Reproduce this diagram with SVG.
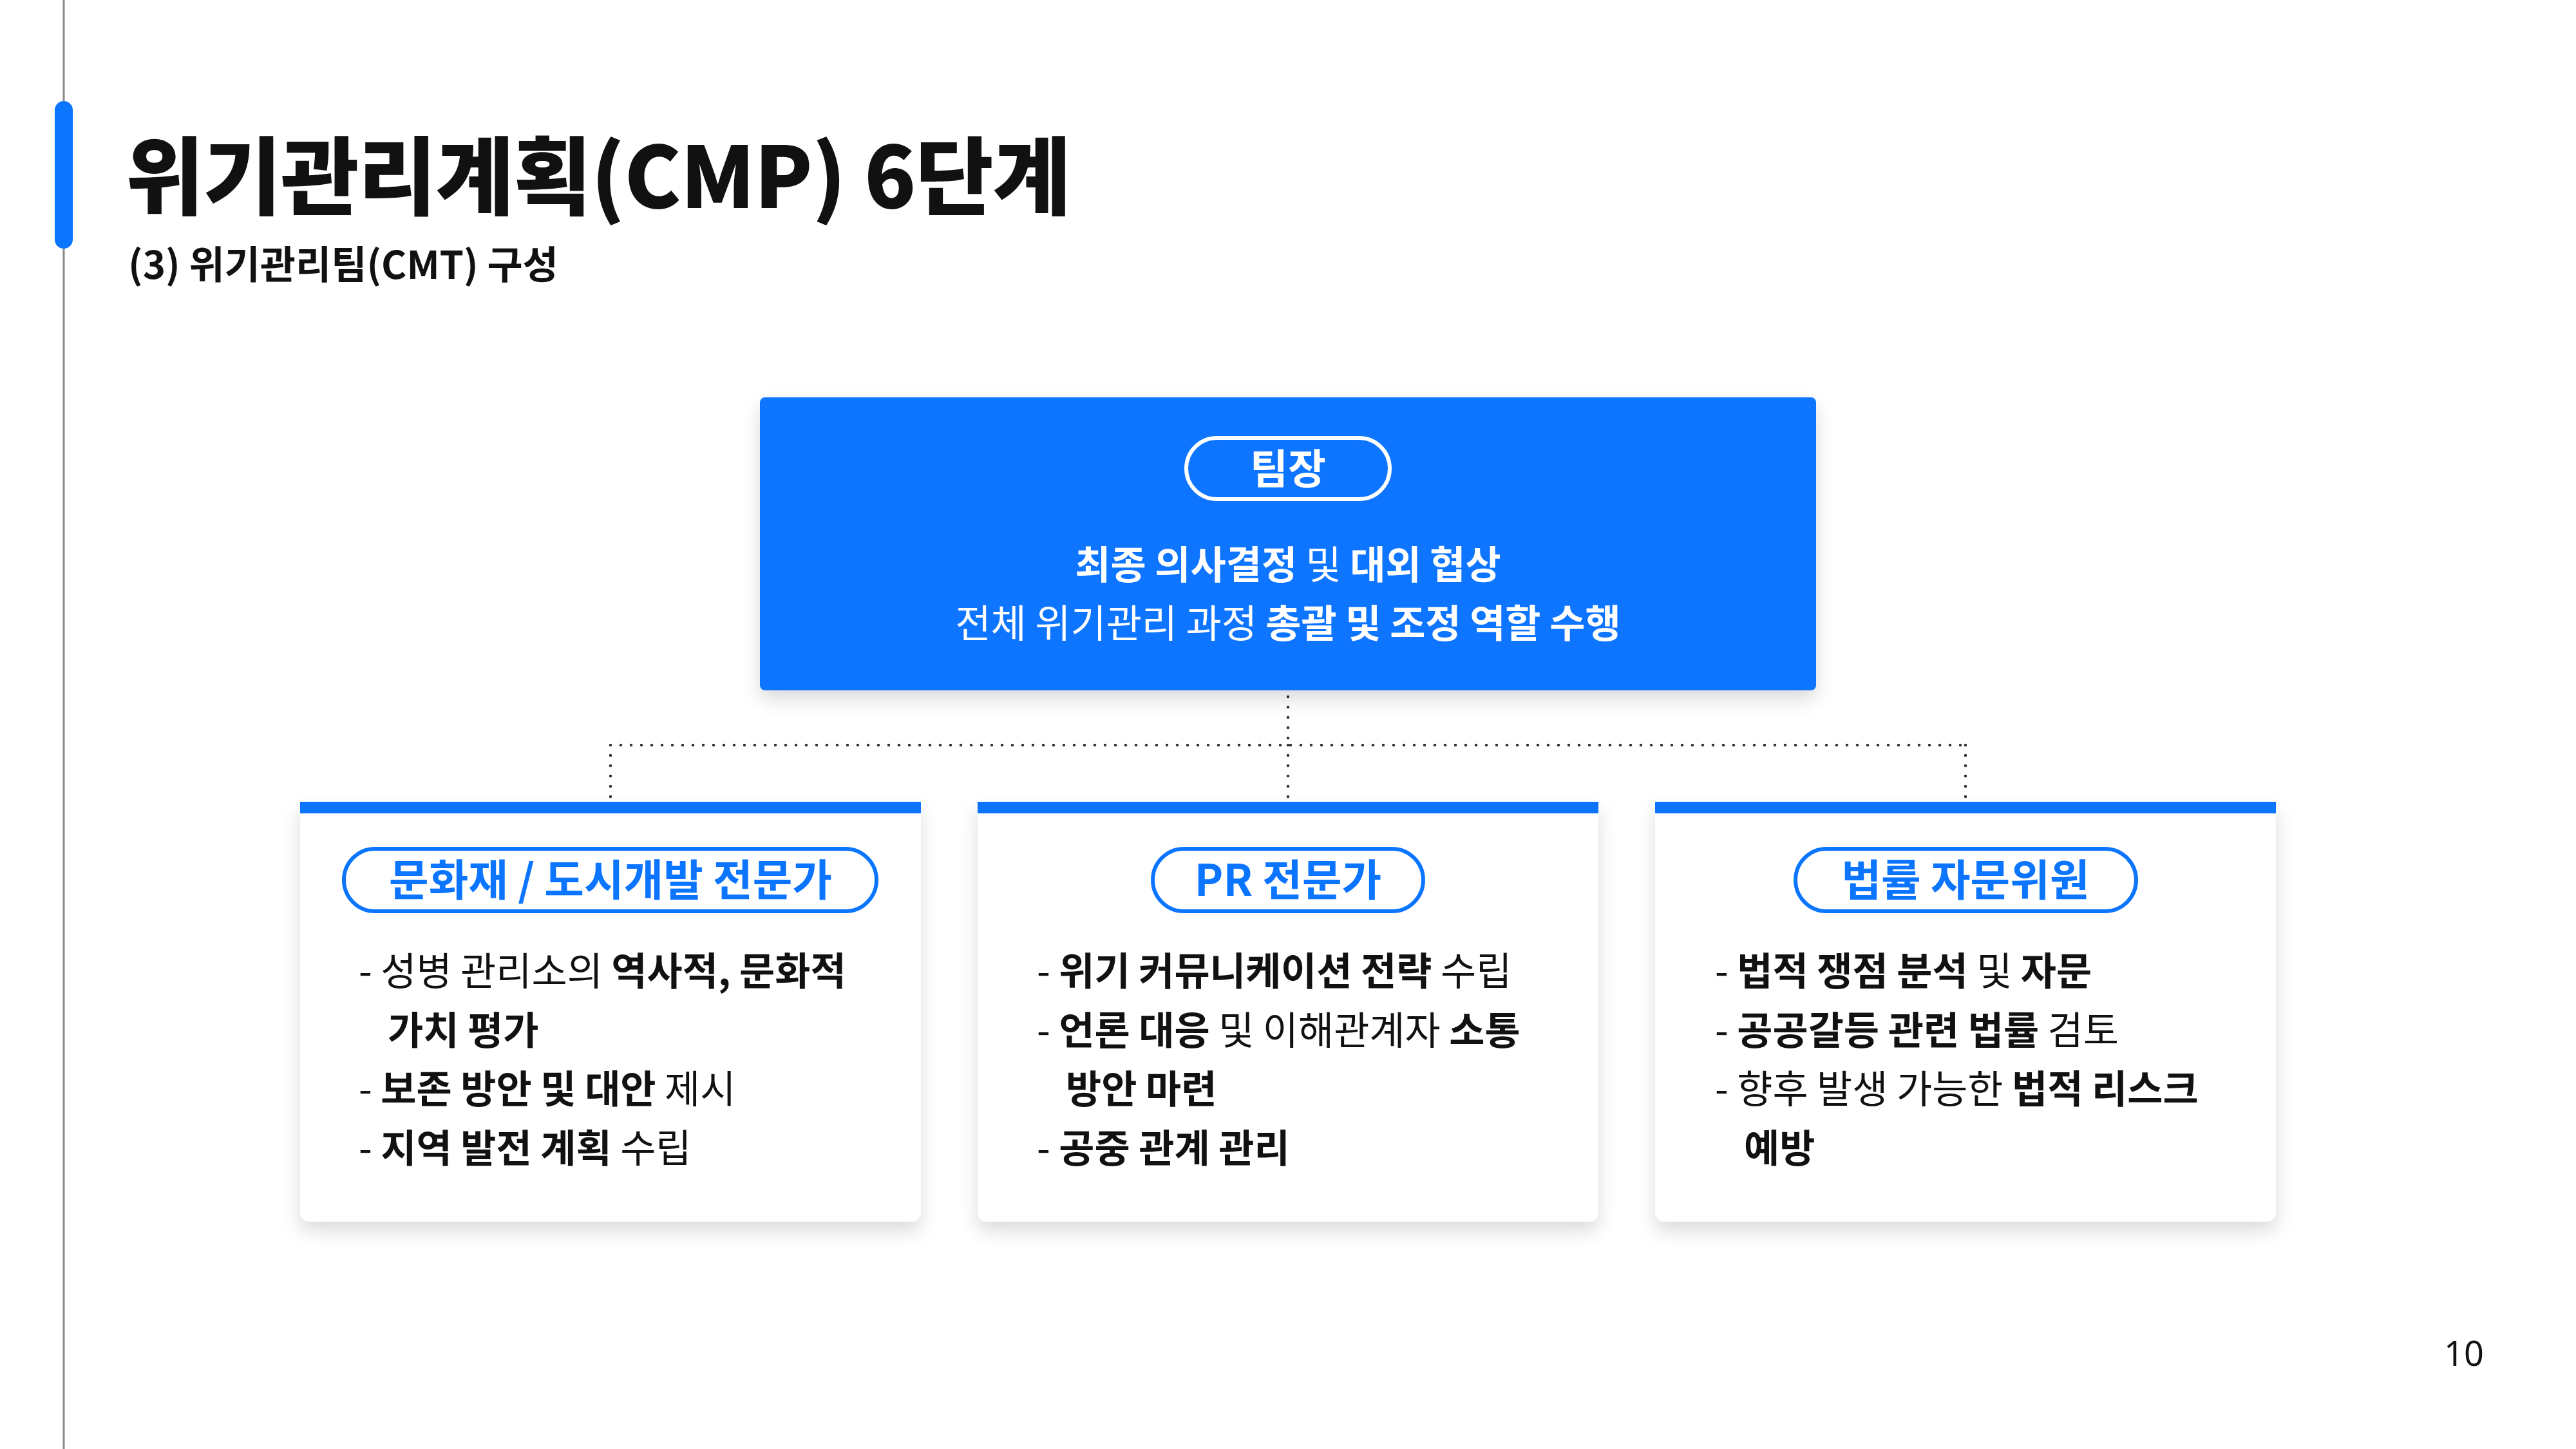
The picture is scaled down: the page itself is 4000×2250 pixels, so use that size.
<svg xmlns="http://www.w3.org/2000/svg" width="4000" height="2250" viewBox="0 0 4000 2250">
<defs>
<style>
text{font-family:"Noto Sans CJK KR","Noto Sans",sans-serif;fill:#111;}
.b{font-weight:700;}
.r{font-weight:400;}
.title{font-size:132px;font-weight:900;letter-spacing:-1px;}
.sub{font-size:60px;font-weight:700;}
.line{font-size:60px;}
.wt{fill:#fff;}
.pilltxt{font-size:67px;font-weight:700;fill:#0B75FF;text-anchor:middle;}
.pill{fill:none;stroke:#0B75FF;stroke-width:6;}
.conn{fill:none;stroke:#333;stroke-width:4.5;stroke-linecap:round;stroke-dasharray:0 16;}
.card{fill:#fff;}
.bar{fill:#0B75FF;}
</style>
<filter id="sh" x="-10%" y="-10%" width="120%" height="130%">
<feDropShadow dx="0" dy="14" stdDeviation="14" flood-color="#000" flood-opacity="0.14"/>
</filter>
</defs>
<rect width="4000" height="2250" fill="#fff"/>
<line x1="99" y1="0" x2="99" y2="2250" stroke="#888" stroke-width="3"/>
<rect x="85" y="157" width="28" height="229" rx="14" fill="#0B75FF"/>
<text class="title" x="195" y="323">위기관리계획(CMP) 6단계</text>
<text class="sub" x="199" y="433">(3) 위기관리팀(CMT) 구성</text>

<g id="connectors">
<path class="conn" d="M2000 1082 V1157 M948 1157 H3052 M948 1157 V1245 M2000 1157 V1245 M3052 1157 V1245"/>
</g>

<g id="leader">
<rect x="1180" y="617" width="1640" height="455" rx="8" fill="#0B75FF" filter="url(#sh)"/>
<rect x="1842" y="680" width="316" height="95" rx="47.5" fill="none" stroke="#fff" stroke-width="6"/>
<text x="2000" y="751" text-anchor="middle" class="wt b" style="font-size:64px">팀장</text>
<text x="2000" y="899" text-anchor="middle" class="line wt"><tspan class="b">최종 의사결정</tspan><tspan class="r"> 및 </tspan><tspan class="b">대외 협상</tspan></text>
<text x="2000" y="990" text-anchor="middle" class="line wt"><tspan class="r">전체 위기관리 과정 </tspan><tspan class="b">총괄 및 조정 역할 수행</tspan></text>
</g>

<g id="card-heritage">
<path class="card" filter="url(#sh)" d="M466 1245 H1430 V1883 A14 14 0 0 1 1416 1897 H480 A14 14 0 0 1 466 1883 Z"/>
<rect class="bar" x="466" y="1245" width="964" height="18"/>
<rect class="pill" x="534" y="1318" width="827" height="97" rx="48.5"/>
<text class="pilltxt" x="948" y="1391">문화재 / 도시개발 전문가</text>
<text class="line" x="557" y="1530"><tspan class="r">- 성병 관리소의 </tspan><tspan class="b">역사적, 문화적</tspan></text>
<text class="line b" x="602" y="1622">가치 평가</text>
<text class="line" x="557" y="1713"><tspan class="r">- </tspan><tspan class="b">보존 방안 및 대안</tspan><tspan class="r"> 제시</tspan></text>
<text class="line" x="557" y="1805"><tspan class="r">- </tspan><tspan class="b">지역 발전 계획</tspan><tspan class="r"> 수립</tspan></text>
</g>

<g id="card-pr">
<path class="card" filter="url(#sh)" d="M1518 1245 H2482 V1883 A14 14 0 0 1 2468 1897 H1532 A14 14 0 0 1 1518 1883 Z"/>
<rect class="bar" x="1518" y="1245" width="964" height="18"/>
<rect class="pill" x="1790" y="1318" width="420" height="97" rx="48.5"/>
<text class="pilltxt" x="2000" y="1391">PR 전문가</text>
<text class="line" x="1610" y="1530"><tspan class="r">- </tspan><tspan class="b">위기 커뮤니케이션 전략</tspan><tspan class="r"> 수립</tspan></text>
<text class="line" x="1610" y="1622"><tspan class="r">- </tspan><tspan class="b">언론 대응</tspan><tspan class="r"> 및 이해관계자 </tspan><tspan class="b">소통</tspan></text>
<text class="line b" x="1655" y="1713">방안 마련</text>
<text class="line" x="1610" y="1805"><tspan class="r">- </tspan><tspan class="b">공중 관계 관리</tspan></text>
</g>

<g id="card-legal">
<path class="card" filter="url(#sh)" d="M2570 1245 H3534 V1883 A14 14 0 0 1 3520 1897 H2584 A14 14 0 0 1 2570 1883 Z"/>
<rect class="bar" x="2570" y="1245" width="964" height="18"/>
<rect class="pill" x="2788" y="1318" width="529" height="97" rx="48.5"/>
<text class="pilltxt" x="3052" y="1391">법률 자문위원</text>
<text class="line" x="2663" y="1530"><tspan class="r">- </tspan><tspan class="b">법적 쟁점 분석</tspan><tspan class="r"> 및 </tspan><tspan class="b">자문</tspan></text>
<text class="line" x="2663" y="1622"><tspan class="r">- </tspan><tspan class="b">공공갈등 관련 법률</tspan><tspan class="r"> 검토</tspan></text>
<text class="line" x="2663" y="1713"><tspan class="r">- 향후 발생 가능한 </tspan><tspan class="b">법적 리스크</tspan></text>
<text class="line b" x="2708" y="1805">예방</text>
</g>

<text x="3826" y="2121" text-anchor="middle" style="font-size:54px;font-weight:400;font-family:'Noto Sans',sans-serif">10</text>
</svg>
